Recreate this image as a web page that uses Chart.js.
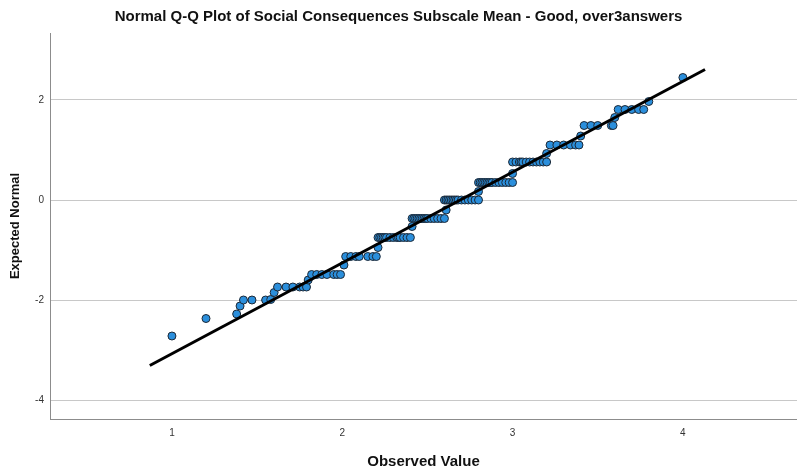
<!DOCTYPE html>
<html>
<head>
<meta charset="utf-8">
<script src="https://cdn.jsdelivr.net/npm/chart.js@4"></script>
<style>
  html, body { margin: 0; padding: 0; background: #fff; overflow: hidden; }
  canvas { display: block; }
</style>
</head>
<body>
<canvas id="qq" width="797" height="471"></canvas>
<script>
const observed = [
  1.00, 1.20, 1.38, 1.40, 1.42, 1.47, 1.55, 1.58, 1.60,
  1.62, 1.67, 1.71, 1.75, 1.77, 1.79, 1.80,
  1.82, 1.85, 1.88, 1.91, 1.95, 1.97, 1.99, 2.01,
  2.02, 2.05, 2.08, 2.10, 2.15, 2.18, 2.20, 2.21,
  2.21, 2.22, 2.23, 2.24, 2.25, 2.26, 2.28, 2.30, 2.32, 2.33, 2.34, 2.36, 2.38, 2.40, 2.41,
  2.41, 2.42, 2.43, 2.44, 2.45, 2.46, 2.47, 2.48, 2.49, 2.50, 2.52, 2.54, 2.56, 2.58, 2.60, 2.61,
  2.60, 2.61, 2.62, 2.63, 2.64, 2.65, 2.66, 2.67, 2.68, 2.70, 2.72, 2.74, 2.76, 2.78, 2.80, 2.80,
  2.80, 2.81, 2.82, 2.83, 2.84, 2.85, 2.86, 2.87, 2.88, 2.90, 2.92, 2.94, 2.96, 2.98, 3.00, 3.00,
  3.00, 3.02, 3.04, 3.05, 3.06, 3.08, 3.10, 3.12, 3.14, 3.16, 3.18, 3.20, 3.20,
  3.22, 3.26, 3.30, 3.34, 3.37, 3.39, 3.40,
  3.42, 3.46, 3.50, 3.58, 3.59, 3.60,
  3.62, 3.66, 3.70, 3.74, 3.77, 3.80,
  4.00
];
const expected = [
  -2.72, -2.37, -2.28, -2.12, -2.00, -2.00, -2.00, -1.99, -1.85,
  -1.74, -1.74, -1.74, -1.74, -1.74, -1.74, -1.60,
  -1.49, -1.49, -1.49, -1.49, -1.49, -1.49, -1.49, -1.30,
  -1.13, -1.13, -1.13, -1.13, -1.13, -1.13, -1.13, -0.95,
  -0.75, -0.75, -0.75, -0.75, -0.75, -0.75, -0.75, -0.75, -0.75, -0.75, -0.75, -0.75, -0.75, -0.75, -0.53,
  -0.37, -0.37, -0.37, -0.37, -0.37, -0.37, -0.37, -0.37, -0.37, -0.37, -0.37, -0.37, -0.37, -0.37, -0.37, -0.20,
  0.00, 0.00, 0.00, 0.00, 0.00, 0.00, 0.00, 0.00, 0.00, 0.00, 0.00, 0.00, 0.00, 0.00, 0.00, 0.17,
  0.35, 0.35, 0.35, 0.35, 0.35, 0.35, 0.35, 0.35, 0.35, 0.35, 0.35, 0.35, 0.35, 0.35, 0.35, 0.53,
  0.76, 0.76, 0.76, 0.76, 0.76, 0.76, 0.76, 0.76, 0.76, 0.76, 0.76, 0.76, 0.93,
  1.10, 1.10, 1.10, 1.10, 1.10, 1.10, 1.28,
  1.49, 1.49, 1.49, 1.49, 1.49, 1.65,
  1.81, 1.81, 1.81, 1.81, 1.81, 1.97,
  2.45
];

// reference line end points
const lineObserved = [0.87, 4.13];
const lineExpected = [-3.31, 2.61];

const xTicks = [1, 2, 3, 4];
const yTicks = [-4, -2, 0, 2];

const points = observed.map((x, i) => ({ x: x, y: expected[i] }));
const refLine = lineObserved.map((x, i) => ({ x: x, y: lineExpected[i] }));

const fontFam = '"Liberation Sans", Arial, sans-serif';

new Chart(document.getElementById('qq'), {
  type: 'scatter',
  data: {
    datasets: [
      {
        label: 'line',
        data: refLine,
        showLine: true,
        borderColor: '#000',
        borderWidth: 3,
        pointRadius: 0,
        order: 0
      },
      {
        label: 'observed',
        data: points,
        backgroundColor: '#2b8fdc',
        borderColor: '#1c2836',
        borderWidth: 1,
        pointRadius: 4,
        order: 1
      }
    ]
  },
  options: {
    responsive: false,
    animation: false,
    layout: { padding: 0, autoPadding: false },
    plugins: {
      legend: { display: false },
      tooltip: { enabled: false },
      title: {
        display: true,
        text: 'Normal Q-Q Plot of Social Consequences Subscale Mean - Good, over3answers',
        color: '#111',
        font: { family: fontFam, size: 15, weight: 'bold' },
        padding: { top: 8, bottom: 7 }
      }
    },
    scales: {
      x: {
        type: 'linear',
        min: 0.284,
        max: 4.67,
        afterBuildTicks: s => { s.ticks = xTicks.map(v => ({ value: v })); },
        afterFit: s => { s.height = 52; s.paddingLeft = 0; s.paddingRight = 0; },
        grid: { display: false, drawTicks: false },
        border: { color: '#8c8c8c', width: 1 },
        ticks: {
          color: '#333',
          padding: 8,
          font: { family: fontFam, size: 10 }
        },
        title: {
          display: true,
          text: 'Observed Value',
          color: '#111',
          font: { family: fontFam, size: 15, weight: 'bold' },
          padding: { top: 11, bottom: 0 }
        }
      },
      y: {
        type: 'linear',
        min: -4.38,
        max: 3.34,
        afterBuildTicks: s => { s.ticks = yTicks.map(v => ({ value: v })); },
        afterFit: s => { s.width = 50; s.paddingTop = 0; s.paddingBottom = 0; },
        grid: { color: '#c8c8c8', drawTicks: false },
        border: { color: '#8c8c8c', width: 1 },
        ticks: {
          color: '#333',
          padding: 6,
          font: { family: fontFam, size: 10 }
        },
        title: {
          display: true,
          text: 'Expected Normal',
          color: '#111',
          font: { family: fontFam, size: 13, weight: 'bold' },
          padding: { top: 8, bottom: 0 }
        }
      }
    }
  }
});
</script>
</body>
</html>
